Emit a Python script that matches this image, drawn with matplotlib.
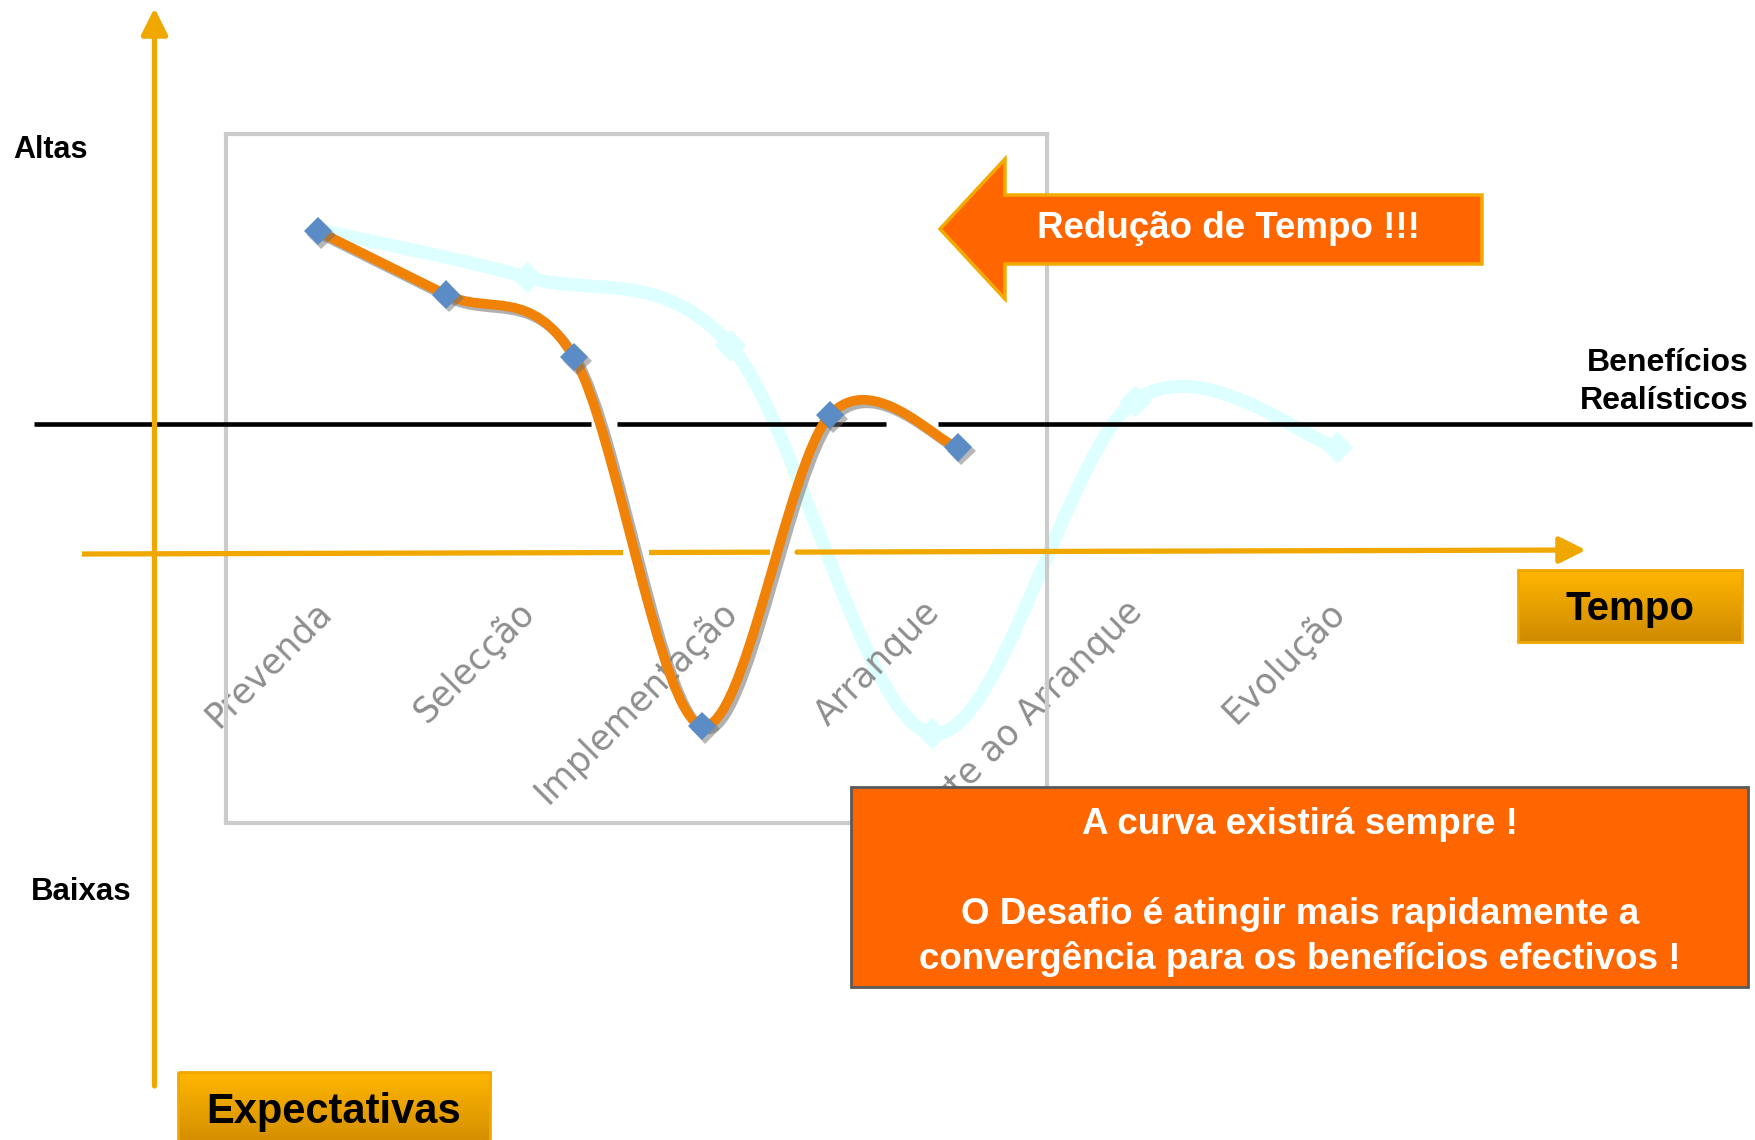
import numpy as np
import matplotlib
matplotlib.use("Agg")
import matplotlib.pyplot as plt
import matplotlib.patheffects as pe
from matplotlib.patches import Rectangle, Polygon, PathPatch
from matplotlib.path import Path
from matplotlib.colors import LinearSegmentedColormap
from matplotlib.transforms import blended_transform_factory

# Dados (expectativas, escala 0-100)
fases = ["Prevenda", "Selecção", "Implementação", "Arranque",
         "Suporte ao Arranque", "Evolução"]
expect_original = [85.9, 79.2, 69.4, 13.0, 61.3, 54.5]   # curva clara (fundo)
expect_reduzida = [85.9, 76.7, 67.6, 14.1, 59.2, 54.5]   # curva laranja
nivel_beneficios = 57.9

W, H = 1755, 1140
laranja = "#EF8207"
ouro = "#F0A800"
azul = "#5B8CC6"
ciano = "#DDFFFF"
fonte = ["Liberation Sans", "DejaVu Sans"]

fig = plt.figure(figsize=(W / 100, H / 100), dpi=100)


def eixo_px(z):
    ax = fig.add_axes([0, 0, 1, 1], zorder=z)
    ax.set_xlim(0, W)
    ax.set_ylim(H, 0)
    ax.axis("off")
    ax.patch.set_alpha(0)
    return ax


def curva_suave(x, y):
    # spline tipo Excel (Catmull-Rom em segmentos de Bezier)
    pts = np.column_stack([x, y]).astype(float)
    n = len(pts)
    verts, codes = [pts[0]], [Path.MOVETO]
    for k in range(n - 1):
        p0, p1 = pts[max(k - 1, 0)], pts[k]
        p2, p3 = pts[k + 1], pts[min(k + 2, n - 1)]
        verts += [p1 + (p2 - p0) / 6, p2 - (p3 - p1) / 6, p2]
        codes += [Path.CURVE4] * 3
    return Path(verts, codes)


# ---------- caixa do gráfico + curva original ----------
caixa = [226 / W, 1 - 823 / H, (1047 - 226) / W, (823 - 134) / H]
ax_c = fig.add_axes(caixa, zorder=1)
ax_c.set_xlim(-0.487, 3.566)
ax_c.set_ylim(0, 100)
ax_c.set_xticks([])
ax_c.set_yticks([])
for s in ax_c.spines.values():
    s.set_color("#CBCBCB")
    s.set_linewidth(3)

xc = np.arange(len(fases))
ax_c.add_patch(PathPatch(curva_suave(xc, expect_original), fill=False,
                         edgecolor=ciano, lw=9.5, capstyle="round",
                         joinstyle="round", clip_on=False, zorder=2))
ax_c.plot(xc[1:], expect_original[1:], "D", ms=15, color=ciano,
          clip_on=False, zorder=2)

for i, f in enumerate(fases):
    ax_c.text(i - 0.05, 33.2, f, rotation=45, rotation_mode="anchor",
              ha="right", va="top", color="#8E8E8E", fontsize=25,
              family="DejaVu Sans", clip_on=False, zorder=2)

# linha de benefícios realísticos (com falhas onde a curva passa)
tb = blended_transform_factory(fig.transFigure, ax_c.transData)
for a, b in [(34, 591), (617, 886), (938, 1752)]:
    ax_c.plot([a / W, b / W], [nivel_beneficios] * 2, color="black",
              lw=3.3, transform=tb, clip_on=False, zorder=3,
              solid_capstyle="butt")

# ---------- eixos dourados ----------
ax_bg = eixo_px(2)
ax_bg.annotate("", xy=(154.5, 8), xytext=(154.5, 1086),
               arrowprops=dict(arrowstyle="-|>", color=ouro, lw=3.8,
                               mutation_scale=40, shrinkA=0, shrinkB=0))


def y_tempo(x):
    return 554 - 4 * (x - 82) / (1586 - 82)


for a, b in [(82, 623), (649, 770)]:
    ax_bg.plot([a, b], [y_tempo(a), y_tempo(b)], color=ouro, lw=3.8,
               solid_capstyle="butt")
ax_bg.annotate("", xy=(1586, y_tempo(1586)), xytext=(797, y_tempo(797)),
               arrowprops=dict(arrowstyle="-|>", color=ouro, lw=3.8,
                               mutation_scale=40, shrinkA=0, shrinkB=0))

# ---------- curva laranja ----------
ax_o = fig.add_axes(caixa, zorder=3)
ax_o.set_xlim(-0.718, 5.696)
ax_o.set_ylim(0, 100)
ax_o.axis("off")
ax_o.patch.set_alpha(0)
sombra = [pe.SimpleLineShadow(offset=(2.5, -2.5), shadow_color="#707070",
                              alpha=0.55), pe.Normal()]
xo = np.arange(len(expect_reduzida))
ax_o.add_patch(PathPatch(curva_suave(xo, expect_reduzida), fill=False,
                         edgecolor=laranja, lw=7, capstyle="round",
                         joinstyle="round", clip_on=False,
                         path_effects=sombra))
ax_o.plot(xo, expect_reduzida, "D", ms=14.5, color=azul, mew=0,
          clip_on=False,
          path_effects=[pe.SimplePatchShadow(offset=(2.5, -2.5),
                                             shadow_rgbFace="#707070",
                                             alpha=0.5), pe.Normal()])

# ---------- anotações ----------
ax_t = eixo_px(4)
ax_t.text(13, 150, "Altas", ha="left", va="center", fontsize=22,
          fontweight="bold", family=fonte)
ax_t.text(31, 892, "Baixas", ha="left", va="center", fontsize=22.5,
          fontweight="bold", family=fonte)
ax_t.text(1749, 382, "Benefícios\nRealísticos", ha="right", va="center",
          fontsize=23, fontweight="bold", family=fonte, linespacing=1.35,
          multialignment="right")

seta = Polygon([(940, 229), (1005, 159), (1005, 195), (1482, 195),
                (1482, 264), (1005, 264), (1005, 299)], closed=True,
               facecolor="#FF6600", edgecolor="#F2A900", lw=2.5)
ax_t.add_patch(seta)
ax_t.text(1228, 229, "Redução de Tempo !!!", ha="center", va="center",
          color="white", fontsize=26.5, fontweight="bold", family=fonte)

grad = np.linspace(0, 1, 64).reshape(-1, 1)
cmap_ouro = LinearSegmentedColormap.from_list("ouro", ["#FFB600", "#CF8A00"])
for (x0, y0, x1, y1), txt, cx, cy, fs in [
        ((1518, 570, 1742, 642), "Tempo", 1630, 609, 29),
        ((178, 1072, 490, 1150), "Expectativas", 334, 1112, 30)]:
    ax_t.imshow(grad, cmap=cmap_ouro, extent=(x0, x1, y1, y0),
                aspect="auto", zorder=1)
    ax_t.add_patch(Rectangle((x0, y0), x1 - x0, y1 - y0, fill=False,
                             edgecolor="#F0A800", lw=2, zorder=2))
    ax_t.text(cx, cy, txt, ha="center", va="center", fontsize=fs,
              fontweight="bold", family=fonte, zorder=3)
ax_t.set_xlim(0, W)
ax_t.set_ylim(H, 0)

ax_t.add_patch(Rectangle((851, 787), 1748 - 851, 987 - 787,
                         facecolor="#FF6600", edgecolor="#5A5A5A", lw=2))
for y, txt in [(825, "A curva existirá sempre !"),
               (915, "O Desafio é atingir mais rapidamente a"),
               (959, "convergência para os benefícios efectivos !")]:
    ax_t.text(1300, y, txt, ha="center", va="center", color="white",
              fontsize=26.5, fontweight="bold", family=fonte)

fig.savefig("out.png", dpi=100)
